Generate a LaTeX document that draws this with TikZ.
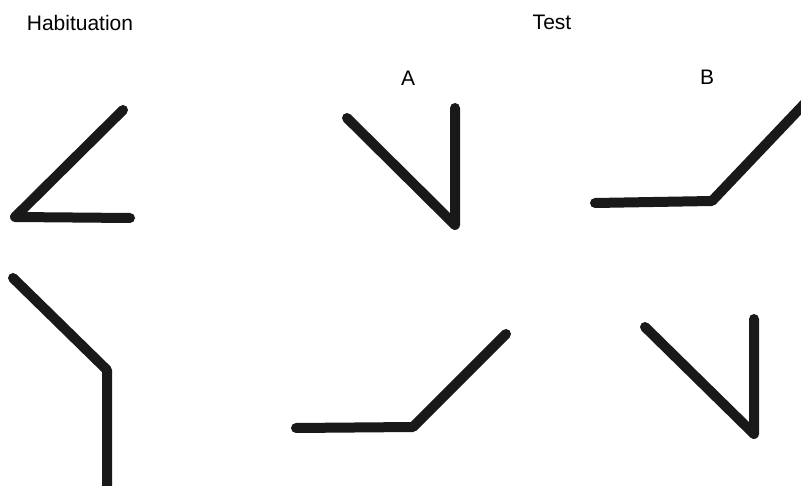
\documentclass[tikz,border=0pt]{standalone}
\usepackage{fontspec}
\setmainfont{Liberation Sans}
\begin{document}
\begin{tikzpicture}[x=1pt,y=-1pt,
  stroke/.style={line width=10pt,line cap=round,line join=round,color=black!90},
  lbl/.style={font=\fontsize{21}{24}\selectfont,inner sep=0pt}]
\useasboundingbox (0,0) rectangle (801,486);
% labels
\node[lbl] (hab) at (80,23) {Habituation};
\node[lbl] (test) at (552,22) {Test};
\node[lbl] (la) at (408,78) {A};
\node[lbl] (lb) at (707,77) {B};
% habituation top
\coordinate (h1a) at (123,110);
\coordinate (h1v) at (15,217);
\coordinate (h1b) at (130,218);
\draw[stroke] (h1a) -- (h1v) -- (h1b);
% habituation bottom
\coordinate (h2a) at (13,278);
\coordinate (h2v) at (107,370);
\coordinate (h2b) at (107,492);
\draw[stroke] (h2a) -- (h2v) -- (h2b);
% test A top
\coordinate (a1a) at (347,118);
\coordinate (a1v) at (455,225);
\coordinate (a1b) at (455,108);
\draw[stroke] (a1a) -- (a1v) -- (a1b);
% test B top
\coordinate (b1a) at (595,203);
\coordinate (b1v) at (712,201);
\coordinate (b1b) at (808,100);
\draw[stroke] (b1a) -- (b1v) -- (b1b);
% test A bottom
\coordinate (a2a) at (296,428);
\coordinate (a2v) at (413,427);
\coordinate (a2b) at (506,334);
\draw[stroke] (a2a) -- (a2v) -- (a2b);
% test B bottom
\coordinate (b2a) at (645,327);
\coordinate (b2v) at (754,434);
\coordinate (b2b) at (754,319);
\draw[stroke] (b2a) -- (b2v) -- (b2b);
\end{tikzpicture}
\end{document}
